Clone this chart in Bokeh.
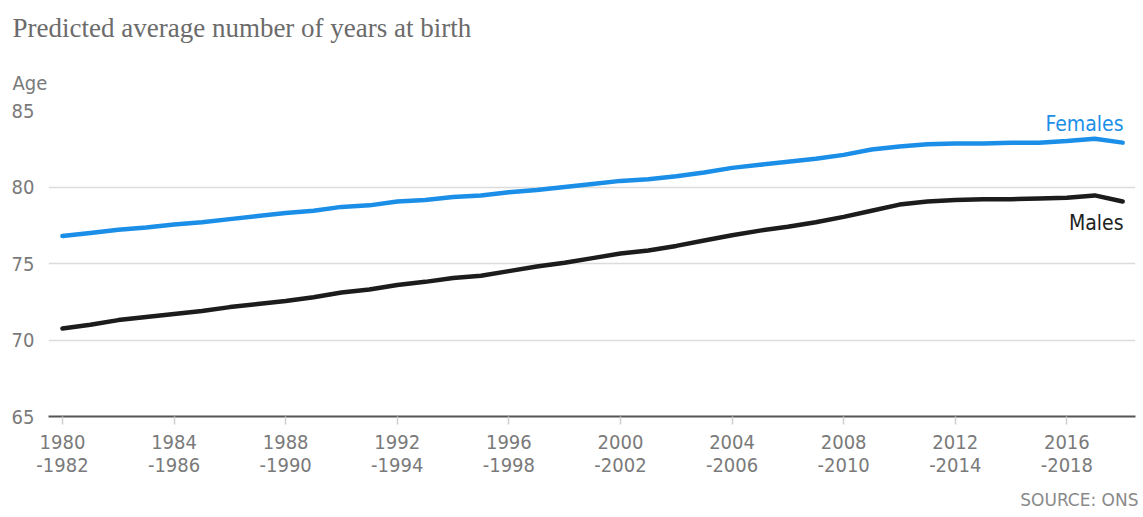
from bokeh.plotting import figure
from bokeh.models import Range1d, FixedTicker, Label, ColumnDataSource, Title
from bokeh.embed import file_html
from bokeh.resources import INLINE

# ---- data ----
years = [1980, 1981, 1982, 1983, 1984, 1985, 1986, 1987, 1988, 1989,
         1990, 1991, 1992, 1993, 1994, 1995, 1996, 1997, 1998, 1999,
         2000, 2001, 2002, 2003, 2004, 2005, 2006, 2007, 2008, 2009,
         2010, 2011, 2012, 2013, 2014, 2015, 2016, 2017, 2018]
females = [76.8, 77.0, 77.2, 77.35, 77.55, 77.7, 77.9, 78.1, 78.3, 78.45,
           78.7, 78.8, 79.05, 79.15, 79.35, 79.45, 79.65, 79.8, 80.0, 80.2,
           80.4, 80.5, 80.7, 80.95, 81.25, 81.45, 81.65, 81.85, 82.1, 82.45,
           82.65, 82.8, 82.85, 82.85, 82.9, 82.9, 83.0, 83.15, 82.9]
males = [70.75, 71.0, 71.3, 71.5, 71.7, 71.9, 72.15, 72.35, 72.55, 72.8,
         73.1, 73.3, 73.6, 73.8, 74.05, 74.2, 74.5, 74.8, 75.05, 75.35,
         75.65, 75.85, 76.15, 76.5, 76.85, 77.15, 77.4, 77.7, 78.05, 78.45,
         78.85, 79.05, 79.15, 79.2, 79.2, 79.25, 79.3, 79.45, 79.05]
tick_years = [1980, 1984, 1988, 1992, 1996, 2000, 2004, 2008, 2012, 2016]
tick_labels = ["1980\n-1982", "1984\n-1986", "1988\n-1990", "1992\n-1994",
               "1996\n-1998", "2000\n-2002", "2004\n-2006", "2008\n-2010",
               "2012\n-2014", "2016\n-2018"]
age_ticks = [65, 70, 75, 80, 85]

title_text = "Predicted average number of years at birth"
axis_title = "Age"
source_text = "SOURCE: ONS"

BLUE = "#1b8fe8"
DARK = "#1c1c1c"
GREY = "#7a7a7a"
SANS = "DejaVu Sans Condensed, Roboto Condensed, Roboto, sans-serif"

W, H = 1143, 517
FL, FT, FB, FR = 48, 110, 416, 1135   # frame edges in page pixels
p = figure(width=W, height=H, output_backend="svg", toolbar_location=None,
           x_range=Range1d(1979.5, 2018.46), y_range=Range1d(65, 85),
           min_border_left=FL, min_border_right=W - FR, min_border_top=FT,
           min_border_bottom=H - FB)
p.outline_line_color = None
p.background_fill_color = "white"
p.border_fill_color = "white"

src = ColumnDataSource(dict(year=years, f=females, m=males))
p.line("year", "f", source=src, line_width=4.5, color=BLUE,
       line_join="round", line_cap="round")
p.line("year", "m", source=src, line_width=4.5, color=DARK,
       line_join="round", line_cap="round")

# grid
p.xgrid.grid_line_color = None
p.ygrid.grid_line_color = "#dcdcdc"
p.ygrid.grid_line_width = 1.5

# x axis
xa = p.xaxis[0]
xa.ticker = FixedTicker(ticks=tick_years)
xa.major_label_overrides = dict(zip(tick_years, tick_labels))
xa.axis_line_color = "#555555"
xa.axis_line_width = 2
xa.major_tick_line_color = "#cfcfcf"
xa.major_tick_line_width = 1.5
xa.major_tick_in = 0
xa.major_tick_out = 8
xa.minor_tick_line_color = None
xa.major_label_standoff = 5
xa.major_label_text_font = SANS
xa.major_label_text_font_size = "20px"
xa.major_label_text_color = GREY
xa.major_label_text_line_height = 0.98

# y axis
ya = p.yaxis[0]
ya.ticker = FixedTicker(ticks=age_ticks)
ya.axis_line_color = None
ya.major_tick_line_color = None
ya.minor_tick_line_color = None
ya.major_tick_in = 0
ya.major_tick_out = 0
ya.major_label_standoff = 14
ya.major_label_text_font = SANS
ya.major_label_text_font_size = "20px"
ya.major_label_text_color = GREY

# titles (side panels: first added is nearest the frame)
p.add_layout(Title(text=axis_title, align="left", offset=-(FL - 12),
                   standoff=32, text_font=SANS, text_font_size="20px",
                   text_color=GREY, text_font_style="normal"), "above")
p.add_layout(Title(text=title_text, align="left", offset=-(FL - 12),
                   standoff=19, text_font="Liberation Serif",
                   text_font_size="27px", text_color="#6b6b6b",
                   text_font_style="normal"), "above")

# source note, right aligned under the tick labels
p.add_layout(Title(text=source_text, align="right", offset=-(W - FR - 5),
                   standoff=15, text_font="DejaVu Sans",
                   text_font_size="17px", text_color="#8a8a8a",
                   text_font_style="normal"), "below")


def lab(px, py, text, **kw):
    # px, py: page pixels from top-left; Label screen units are frame-relative
    p.add_layout(Label(x=px - FL, y=FB - py, x_units="screen", y_units="screen",
                       text=text, **kw))


lab(1123, 123, "Females", text_font=SANS, text_font_size="21px",
    text_color=BLUE, text_baseline="middle", text_align="right")
lab(1123, 222, "Males", text_font=SANS, text_font_size="21px",
    text_color="#222222", text_baseline="middle", text_align="right")

open("out.html", "w").write(file_html(p, INLINE))
